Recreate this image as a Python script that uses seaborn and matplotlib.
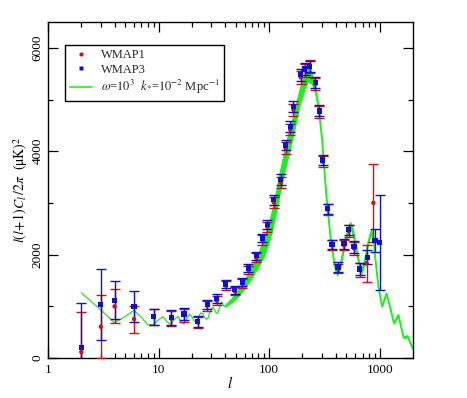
import numpy as np
import pandas as pd
import matplotlib
matplotlib.use("Agg")
import matplotlib.pyplot as plt
import seaborn as sns
from matplotlib.lines import Line2D
from matplotlib.ticker import FixedLocator, NullFormatter

# ---------------- data ----------------
# WMAP3 (blue squares)
l_wmap3 = [2, 3, 4, 6, 9, 13, 17, 22.5, 27.5, 33.5, 40.5, 49, 57, 65, 76.5, 87, 96, 110,
           127, 141, 155, 166, 193, 210, 233, 262, 285, 305, 338, 370, 420, 475, 525,
           585, 660, 775, 906, 1000]
cl_wmap3 = [200, 1030, 1120, 990, 800, 780, 850, 705, 1035, 1145, 1430, 1320, 1470, 1740,
            1980, 2320, 2580, 3060, 3450, 4120, 4480, 4860, 5480, 5590, 5640, 5330, 4780,
            3830, 2890, 2200, 1760, 2210, 2480, 2150, 1720, 1950, 2280, 2230]
err_wmap3 = [870, 685, 367, 300, 155, 145, 115, 103, 85, 84, 78, 75, 75, 78, 80, 85, 90, 95,
             100, 105, 110, 110, 115, 115, 115, 110, 105, 100, 95, 90, 90, 95, 100, 110,
             120, 130, 225, 917]

# WMAP1 (red circles)
l_wmap1 = [2, 3, 4, 6, 9, 13, 17, 22.5, 27.5, 33.5, 40.5, 49, 57, 65, 76.5, 87, 96, 110,
           127, 141, 155, 166, 193, 210, 233, 262, 285, 305, 338, 370, 420, 475, 525, 585,
           660, 760, 876]
cl_wmap1 = [116, 605, 998, 753, 790, 760, 830, 690, 1010, 1110, 1400, 1290, 1440, 1700,
            1940, 2280, 2540, 3010, 3400, 4060, 4420, 4800, 5430, 5560, 5640, 5300, 4760,
            3800, 2870, 2180, 1730, 2180, 2460, 2120, 1700, 1830, 3000]
err_wmap1 = [766, 605, 330, 260, 160, 150, 125, 110, 95, 90, 85, 80, 80, 80, 85, 90, 95, 100,
             105, 110, 115, 115, 120, 120, 120, 115, 110, 105, 100, 95, 95, 100, 115, 120,
             130, 355, 760]

# model curve, low multipoles (integer l)
l_model_low = list(range(2, 41))
cl_model_low = [1261, 930, 680, 805, 920, 785, 640, 650, 740, 800, 690, 650, 760, 800, 700,
                660, 760, 850, 800, 710, 700, 790, 870, 860, 790, 750, 770, 880, 960, 980,
                940, 880, 860, 920, 1030, 1080, 1050, 1000, 1000]

# model curve, high multipoles: centre and half-width of the fast-oscillation band
l_model_band = [40, 50, 60, 70, 80, 90, 100, 110, 122, 140, 167, 190, 212, 225, 240, 260,
                280, 300, 330, 360, 390, 410, 440, 480, 520, 545, 580, 620, 660, 690, 730,
                780, 830, 850, 880, 930, 980, 1050, 1150, 1250, 1340, 1475, 1560, 1640,
                1790, 1900, 2000]
cl_model_band = [1000, 1200, 1430, 1670, 1910, 2150, 2450, 2800, 3300, 3900, 4550, 5080,
                 5380, 5480, 5430, 5220, 4850, 4250, 3100, 2300, 1800, 1640, 1780, 2200,
                 2500, 2560, 2400, 2050, 1760, 1680, 1850, 2200, 2420, 2450, 2250, 1750,
                 1330, 1000, 1250, 950, 680, 830, 600, 400, 420, 280, 180]
hw_model_band = [30, 70, 100, 130, 160, 200, 230, 250, 260, 260, 240, 200, 170, 150, 130,
                 110, 80, 60, 50, 50, 60, 70, 70, 80, 90, 90, 80, 70, 60, 60, 60, 60, 60,
                 50, 40, 35, 30, 30, 30, 30, 30, 30, 30, 30, 30, 30, 30]

x_ticks = [1, 10, 100, 1000]
x_ticklabels = ["1", "10", "100", "1000"]
y_ticks = [0, 2000, 4000, 6000]
y_ticklabels = ["0", "2000", "4000", "6000"]

# ---------------- style ----------------
sns.set_theme(style="ticks")
plt.rcParams["font.family"] = ["Liberation Serif", "DejaVu Serif"]
plt.rcParams["mathtext.fontset"] = "stix"

GREEN = "#1ef01e"
GREEN_LINE = "#3ee03e"
RED = "#d01010"
BLUE = "#1010d0"

fig = plt.figure(figsize=(4.67, 3.98), dpi=100)
ax = fig.add_axes([0.1028, 0.1005, 0.7816, 0.8442])

df_low = pd.DataFrame({"l": l_model_low, "cl": cl_model_low})
df_band = pd.DataFrame({"l": l_model_band, "cl": cl_model_band, "hw": hw_model_band})

# model band
ax.fill_between(df_band["l"], df_band["cl"] - df_band["hw"], df_band["cl"] + df_band["hw"],
                color=GREEN, lw=0, zorder=2)
sns.lineplot(data=df_band, x="l", y="cl", color=GREEN, lw=1.3, ax=ax, sort=False,
             estimator=None, zorder=2)
sns.lineplot(data=df_low, x="l", y="cl", color=GREEN_LINE, lw=1.0, ax=ax, sort=False,
             estimator=None, zorder=2)

# data
ax.errorbar(l_wmap1, cl_wmap1, yerr=err_wmap1, fmt="none", ecolor=RED, elinewidth=1.0,
            capsize=3.8, capthick=1.0, zorder=3)
ax.errorbar(l_wmap3, cl_wmap3, yerr=err_wmap3, fmt="none", ecolor=BLUE, elinewidth=1.0,
            capsize=3.8, capthick=1.0, zorder=3)
sns.scatterplot(x=l_wmap1, y=cl_wmap1, marker="o", s=10, color=RED, edgecolor="none",
                ax=ax, zorder=4)
sns.scatterplot(x=l_wmap3, y=cl_wmap3, marker="s", s=14, color=BLUE, edgecolor="none",
                ax=ax, zorder=4)

# ---------------- axes ----------------
ax.set_xscale("log")
ax.set_xlim(1, 2000)
ax.set_ylim(0, 6500)
ax.set_xticks(x_ticks)
ax.set_xticklabels(x_ticklabels)
ax.xaxis.set_minor_locator(FixedLocator([m * 10 ** d for d in range(0, 4) for m in range(2, 10)
                                         if m * 10 ** d < 2000]))
ax.xaxis.set_minor_formatter(NullFormatter())
ax.set_yticks(y_ticks)
ax.set_yticklabels(y_ticklabels, rotation=90, va="center")
ax.yaxis.set_minor_locator(FixedLocator([1000, 3000, 5000]))

ax.tick_params(which="both", direction="in", top=True, right=True, colors="black",
               labelsize=9.5, width=0.9)
ax.tick_params(which="major", length=7.5)
ax.tick_params(which="minor", length=3.5)
ax.tick_params(axis="y", pad=3)
ax.tick_params(axis="x", pad=4)
for s in ax.spines.values():
    s.set_visible(True)
    s.set_color("black")
    s.set_linewidth(1.0)

ax.set_xlabel(r"$l$", fontsize=11, color="black")
ax.xaxis.set_label_coords(0.5, -0.05)
ax.set_ylabel(r"$l(l\!+\!1)C_l\,/2\pi$  $(\mathrm{\mu K})^2$", fontsize=10, color="black")
ax.yaxis.set_label_coords(-0.05, 0.5)

handles = [
    Line2D([], [], ls="none", marker="o", ms=3, color=RED, mec="none"),
    Line2D([], [], ls="none", marker="s", ms=3.5, color=BLUE, mec="none"),
    Line2D([], [], color=GREEN, lw=1.2),
]
labels = ["WMAP1", "WMAP3", r"$\omega$=$\mathit{10}^{3}$  $k_{*}$=$\mathit{10}^{-2}$ Mpc$^{-1}$"]
leg = ax.legend(handles, labels, loc="upper left", bbox_to_anchor=(0.047, 0.932),
                borderaxespad=0, frameon=True, fancybox=False, edgecolor="black",
                framealpha=1, fontsize=9, handlelength=1.8, handletextpad=0.7,
                labelspacing=0.2, borderpad=0.35)
leg.get_frame().set_linewidth(1.0)

fig.savefig("out.png", dpi=100)
